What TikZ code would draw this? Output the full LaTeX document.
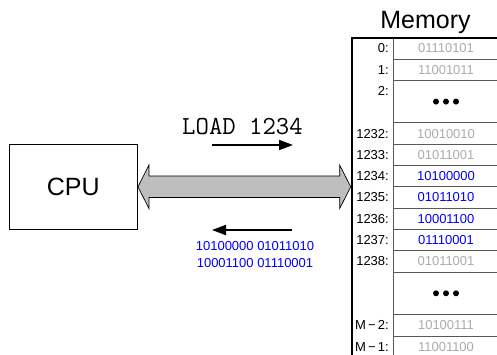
\documentclass[tikz,border=0pt]{standalone}
\usepackage{fontspec}
\setmainfont{Liberation Sans}
\usetikzlibrary{calc, arrows.meta}
\definecolor{cblue}{HTML}{0000FF}
\definecolor{cgray}{HTML}{ABABAB}
\definecolor{cbus}{HTML}{BEBEBE}
\tikzset{
  box/.style={draw, line width=1.3pt, inner sep=0pt},
  big/.style={font=\fontsize{25}{30}\selectfont},
  small/.style={font=\fontsize{13}{17}\selectfont, inner sep=0pt},
  rowline/.style={draw=black!65, line width=0.8pt},
  msg/.style={line width=2pt, -{Triangle[length=14pt, width=10pt]}},
  bus/.style={draw=black, fill=cbus, line width=0.7pt, line join=miter},
}

\begin{document}
\begin{tikzpicture}[x=1pt, y=-1pt]
\useasboundingbox (0,0) rectangle (497,355);

% cpu
\node[box, big, minimum width=128pt, minimum height=85pt] (cpu) at (73.3,186.8) {CPU};

% memory
\node[big, anchor=base] (memtitle) at (425.5,28.3) {Memory};
\coordinate (memwall) at (351.7,37.7);
\coordinate (port) at ($(cpu.east -| memwall)+(-1,0)$);

% bus
\draw[bus] (cpu.east) -- ++(11,-21.7) -- ++(0,11) -- ($(port)+(-11,-10.7)$)
  -- ++(0,-11) -- (port) -- ++(-11,21.7) -- ++(0,-11)
  -- ($(cpu.east)+(11,10.7)$) -- ++(0,11) -- cycle;

\draw[rowline] (393.3,37.7) -- (393.3,355);
\foreach \n in {1,2,4,5,...,11,13,14}
  \draw[rowline] (393.3,{37.7+21.3*\n}) -- (497,{37.7+21.3*\n});
\draw[line width=2pt] (memwall |- 0,355) -- (memwall) -- (497,37.7);

\foreach \n/\a/\v/\c in {0/0:/01110101/cgray, 1/1:/11001011/cgray,
    4/1232:/10010010/cgray, 5/1233:/01011001/cgray, 6/1234:/10100000/cblue,
    7/1235:/01011010/cblue, 8/1236:/10001100/cblue, 9/1237:/01110001/cblue,
    10/1238:/01011001/cgray, 13/M\,−\,2:/10100111/cgray, 14/M\,−\,1:/11001100/cgray} {
  \node[small, anchor=east] (addr\n) at (389,{37.7+21.3*(\n+0.5)}) {\a};
  \node[small, text=\c] (val\n) at (446,{37.7+21.3*(\n+0.5)}) {\v};
}
\node[small, anchor=east] (addr2) at (389,{37.7+21.3*2.5}) {2:};
\foreach \n in {3,12}
  \foreach \dx in {-10,0,10}
    \fill (446+\dx,{37.7+21.3*\n}) circle (3pt);

% messages
\node[font=\ttfamily\fontsize{26}{30}\selectfont, anchor=base] (cmd) at (242.5,134.3) {LOAD 1234};
\coordinate (reqa) at (212,145);
\coordinate (reqb) at (293,145);
\draw[msg] (reqa) -- (reqb);

\coordinate (ansa) at (292,230);
\coordinate (ansb) at (212,230);
\draw[msg] (ansa) -- (ansb);
\node[small, text=cblue, align=center] (data) at (255,254.2) {10100000 01011010\\10001100 01110001};

\end{tikzpicture}
\end{document}
